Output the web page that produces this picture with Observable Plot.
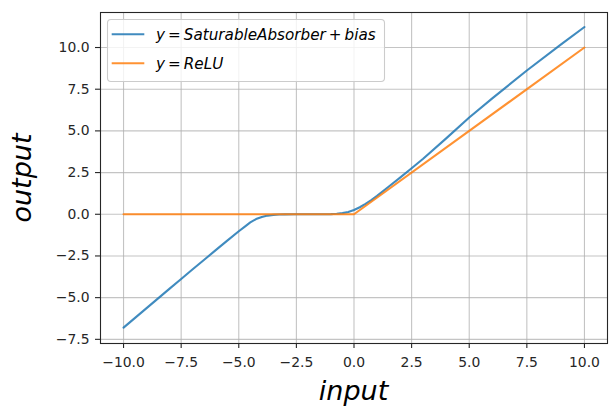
<!DOCTYPE html>
<html><head><meta charset="utf-8">
<script src="https://cdn.jsdelivr.net/npm/d3@7"></script>
<script src="https://cdn.jsdelivr.net/npm/@observablehq/plot@0.6"></script>
<style>body{margin:0;background:#fff}</style>
</head><body><div id="chart"></div>
<script>
const inputX = [-10,-9,-8,-7.5,-7,-6.5,-6,-5.5,-5,-4.75,-4.5,-4.25,-4,-3.75,-3.5,-3.25,-3,-2.5,-2,-1.5,-1,-0.75,-0.5,-0.25,0,0.25,0.5,0.75,1,1.5,2,2.5,3,4,5,6,7.5,9,10];
const saturableOut = [-6.80,-5.63,-4.46,-3.88,-3.30,-2.73,-2.15,-1.58,-1.02,-0.76,-0.49,-0.29,-0.16,-0.08,-0.035,-0.015,-0.005,0,0,0.002,0.01,0.03,0.07,0.14,0.26,0.42,0.62,0.85,1.1,1.65,2.2,2.76,3.33,4.55,5.8,6.95,8.62,10.2,11.23];
const reluX = [-10,0,10];
const reluY = [0,0,10];
const xTicks = [-10,-7.5,-5,-2.5,0,2.5,5,7.5,10];
const yTicks = [-7.5,-5,-2.5,0,2.5,5,7.5,10];
const colors = ["#1f77b4","#ff7f0e"];
const xLabel = "input";
const yLabel = "output";

const blueData = inputX.map((x,i)=>({x, y: saturableOut[i]}));
const orangeData = reluX.map((x,i)=>({x, y: reluY[i]}));
const fmt = d3.format(".1f");

const chart = Plot.plot({
  width:610, height:407, marginLeft:100, marginRight:3, marginTop:12, marginBottom:64,
  style:{fontFamily:"DejaVu Sans", fontSize:"13.9px", color:"#262626", background:"#fff", overflow:"visible"},
  x:{domain:[-11,11]},
  y:{domain:[-7.75,12.1]},
  marks:[
    Plot.gridX(xTicks,{stroke:"#b0b0b0", strokeOpacity:0.75, strokeWidth:1.1}),
    Plot.gridY(yTicks,{stroke:"#b0b0b0", strokeOpacity:0.75, strokeWidth:1.1}),
    Plot.line(blueData,{x:"x", y:"y", stroke:colors[0], strokeWidth:2.1, strokeOpacity:0.85}),
    Plot.line(orangeData,{x:"x", y:"y", stroke:colors[1], strokeWidth:2.1, strokeOpacity:0.85}),
    Plot.frame({stroke:"#262626", strokeWidth:1.1}),
    Plot.axisX(xTicks,{tickSize:5, tickPadding:9, tickFormat:fmt, label:null, strokeWidth:1.1}),
    Plot.axisY(yTicks,{tickSize:5, tickPadding:6, tickFormat:fmt, label:null, strokeWidth:1.1})
  ]
});
document.getElementById("chart").appendChild(chart);

const svg = d3.select(chart);
// axis labels
svg.append("text").attr("x",353.5).attr("y",400).attr("text-anchor","middle")
  .attr("font-family","DejaVu Sans").attr("font-style","italic").attr("font-size",27)
  .attr("fill","#000").text(xLabel);
svg.append("text").attr("transform","translate(31,178) rotate(-90)").attr("text-anchor","middle")
  .attr("font-family","DejaVu Sans").attr("font-style","italic").attr("font-size",27)
  .attr("fill","#000").text(yLabel);

// legend
const lg = svg.append("g");
lg.append("rect").attr("x",107.5).attr("y",19.5).attr("width",277).attr("height",62).attr("rx",3.5)
  .attr("fill","#fff").attr("fill-opacity",0.8).attr("stroke","#cccccc").attr("stroke-width",1.1);
const entries = [
  {parts:[["y",true],["\u2009=\u2009",false],["SaturableAbsorber",true],["\u2009+\u2009",false],["bias",true]], color:colors[0], cy:34.3},
  {parts:[["y",true],["\u2009=\u2009",false],["ReLU",true]], color:colors[1], cy:63.3}
];
entries.forEach(e=>{
  lg.append("line").attr("x1",111.7).attr("x2",144.3).attr("y1",e.cy).attr("y2",e.cy)
    .attr("stroke",e.color).attr("stroke-width",2.1).attr("stroke-opacity",0.85);
  const t = lg.append("text").attr("x",156).attr("y",e.cy+5.8).attr("text-anchor","start")
    .attr("font-family","DejaVu Sans").attr("font-size",15.2).attr("fill","#000");
  e.parts.forEach(([s,it])=>t.append("tspan").attr("font-style",it?"italic":"normal").text(s));
});
</script>
</body></html>
